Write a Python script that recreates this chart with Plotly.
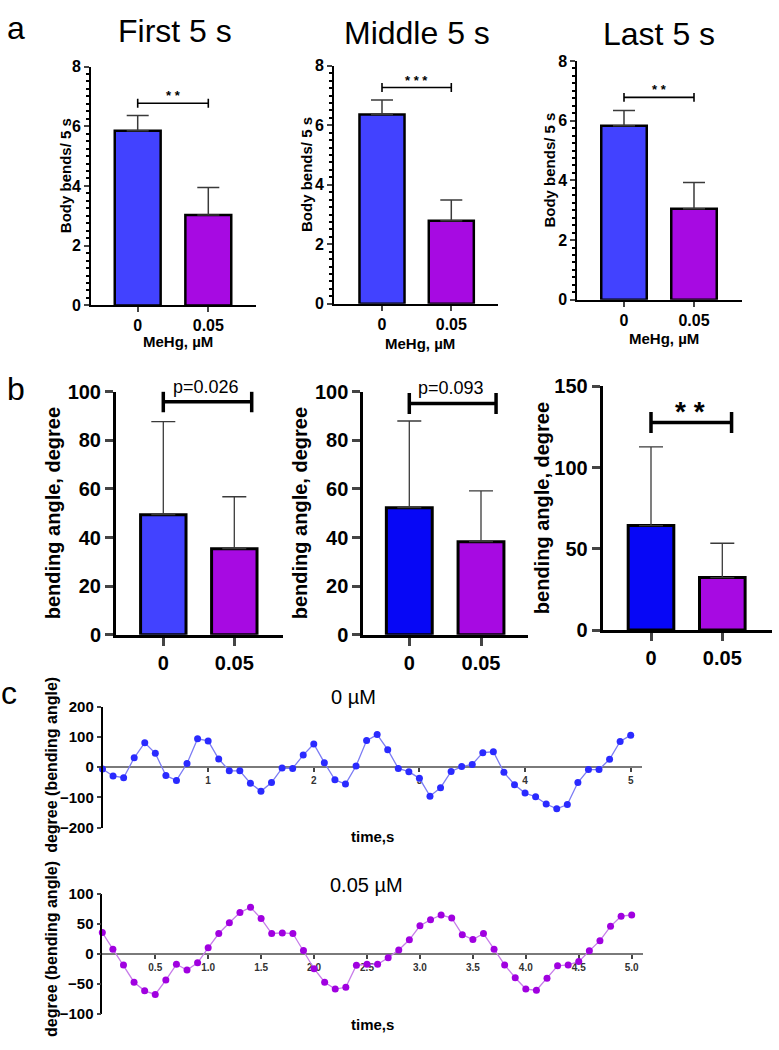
import plotly.graph_objects as go

W, H = 779, 1050
FONT = "Liberation Sans, Arial, sans-serif"

groups = ["0", "0.05"]

# a: body bends per 5 s
a_titles = ["First 5 s", "Middle 5 s", "Last 5 s"]
a_means = [[5.85, 3.03], [6.36, 2.79], [5.83, 3.05]]
a_err = [[0.51, 0.92], [0.49, 0.70], [0.51, 0.88]]
a_stars = ["* *", "* * *", "* *"]
a_bracket_y = [6.77, 7.27, 6.78]

# b: bending angle
b_means = [[49.4, 35.4], [52.3, 38.3], [64.3, 32.3]]
b_err = [[38.3, 21.4], [35.7, 20.9], [48.4, 21.1]]
b_labels = ["p=0.026", "p=0.093", "* *"]
b_bracket_y = [95.9, 95.2, 127.7]
b_bracket_end = [1.245, 1.21, 1.13]
b_ymax = [100, 100, 150]
b_dtick = [20, 20, 50]

# c: bending angle traces, one point per 0.1 s
time_s = [0.0, 0.1, 0.2, 0.3, 0.4, 0.5, 0.6, 0.7, 0.8, 0.9,
          1.0, 1.1, 1.2, 1.3, 1.4, 1.5, 1.6, 1.7, 1.8, 1.9,
          2.0, 2.1, 2.2, 2.3, 2.4, 2.5, 2.6, 2.7, 2.8, 2.9,
          3.0, 3.1, 3.2, 3.3, 3.4, 3.5, 3.6, 3.7, 3.8, 3.9,
          4.0, 4.1, 4.2, 4.3, 4.4, 4.5, 4.6, 4.7, 4.8, 4.9, 5.0]
angle_0 = [-6, -29, -35, 31, 81, 46, -28, -44, 12, 94,
           87, 27, -12, -12, -53, -80, -51, -3, -4, 40,
           77, 15, -42, -56, 4, 88, 108, 58, -4, -15,
           -37, -96, -68, -14, 2, 9, 48, 51, -17, -58,
           -86, -98, -122, -138, -124, -51, -8, -8, 26, 85, 106]
angle_005 = [35.5, 7.7, -18.6, -47.5, -62, -68, -44, -17.5, -27, -15,
             10, 34, 52, 69, 78, 59, 34, 35, 34, 5.5,
             -25, -47.5, -59, -56, -19, -17.5, -17.5, -6.5, 6.6, 23.5,
             47, 57, 65, 60, 32, 24, 34, 7.7, -18.6, -40,
             -59, -61, -41, -20, -18.6, -13, 5, 22, 46, 63, 65]

BLUE_A = "#4242ff"
BLUE_B = "#0707f6"
PURPLE = "#a70ae2"


def px_x(x):
    return x / W


def px_y(y):
    return 1 - y / H


def cat_axis(left, right, c0, c1):
    u = c1 - c0
    return [px_x(left), px_x(right)], [(left - c0) / u, (right - c0) / u]


fig = go.Figure()
layout = dict(width=W, height=H, margin=dict(l=0, r=0, t=0, b=0),
              paper_bgcolor="white", plot_bgcolor="white", showlegend=False,
              font=dict(family=FONT, color="black"), annotations=[])


def note(x, y, text, size, bold=False, angle=0, **kw):
    d = dict(x=px_x(x), y=px_y(y), xref="paper", yref="paper", text=text,
             showarrow=False, textangle=angle, xanchor="center", yanchor="middle",
             font=dict(family=FONT, size=size, color="black",
                       weight="bold" if bold else "normal"))
    d.update(kw)
    layout["annotations"].append(d)


# panel a boxes: axis left, axis right, cat0 px, cat1 px, top px (y=8), bottom px (y=0)
a_boxes = [(91, 256, 137.7, 208.3, 56.7, 300.7),
           (334, 498.3, 382, 451.3, 56, 299),
           (577.3, 741.7, 624, 694, 51, 295)]
a_title_pos = [(175, 20), (417, 22), (659, 23)]
a_ytitle_x = [65, 307, 550]
a_xtitle_y = [338, 340, 334]

for i in range(3):
    n = i + 1
    left, right, c0, c1, top, bot = a_boxes[i]
    xd, xr = cat_axis(left, right, c0, c1)
    xa, ya = f"x{n}", f"y{n}"
    fig.add_trace(go.Bar(x=[0, 1], y=a_means[i], width=0.65,
                         marker=dict(color=[BLUE_A, PURPLE], line=dict(color="black", width=2.5)),
                         error_y=dict(type="data", symmetric=False, array=a_err[i], arrayminus=[0, 0],
                                      color="#3a3a3a", thickness=1.5, width=11),
                         xaxis=xa, yaxis=ya))
    yb = a_bracket_y[i]
    h = 0.15
    fig.add_trace(go.Scatter(x=[0, 0, None, 0, 1, None, 1, 1],
                             y=[yb - h, yb + h, None, yb, yb, None, yb - h, yb + h],
                             mode="lines", line=dict(color="black", width=1.6),
                             cliponaxis=False, xaxis=xa, yaxis=ya))
    layout["annotations"].append(dict(x=0.5, y=yb, xref=xa, yref=ya, text=a_stars[i],
                                      showarrow=False, yanchor="bottom", yshift=-2,
                                      font=dict(family=FONT, size=13, weight="bold")))
    layout[f"xaxis{n}"] = dict(domain=xd, range=xr, anchor=ya, showline=True, linecolor="black",
                               linewidth=1.8, ticks="outside", ticklen=5, tickwidth=1.5,
                               tickvals=[0, 1], ticktext=groups, showgrid=False, zeroline=False,
                               tickfont=dict(family=FONT, size=16, weight="bold"))
    layout[f"yaxis{n}"] = dict(domain=[px_y(bot), px_y(top)], range=[0, 8], anchor=xa,
                               showline=True, linecolor="black", linewidth=1.8,
                               ticks="outside", ticklen=5, tickwidth=1.5, dtick=2,
                               minor=dict(ticks="outside", ticklen=3, dtick=0.25, tickcolor="black"),
                               showgrid=False, zeroline=False,
                               tickfont=dict(family=FONT, size=16, weight="bold"))
    note(a_title_pos[i][0], a_title_pos[i][1], a_titles[i], 32)
    note(a_ytitle_x[i], (top + bot) / 2 - 10, "Body bends/ 5 s", 15, bold=True, angle=-90)
    note((left + right) / 2 + 4, a_xtitle_y[i], "MeHg, µM", 15, bold=True)

# panel b boxes
b_boxes = [(116, 283, 163.3, 234.3, 389, 637),
           (363.3, 528, 409.3, 481, 389, 637),
           (602.7, 771.7, 651, 722.3, 383.3, 632.3)]
b_ytitle_x = [53, 300, 542]
b_colors = [[BLUE_A, PURPLE], [BLUE_B, PURPLE], [BLUE_B, PURPLE]]

for i in range(3):
    n = i + 4
    left, right, c0, c1, top, bot = b_boxes[i]
    xd, xr = cat_axis(left, right, c0, c1)
    xa, ya = f"x{n}", f"y{n}"
    fig.add_trace(go.Bar(x=[0, 1], y=b_means[i], width=0.64,
                         marker=dict(color=b_colors[i], line=dict(color="black", width=3)),
                         error_y=dict(type="data", symmetric=False, array=b_err[i], arrayminus=[0, 0],
                                      color="#3a3a3a", thickness=1.3, width=12),
                         xaxis=xa, yaxis=ya))
    yb = b_bracket_y[i]
    h = b_ymax[i] * 0.043
    e = b_bracket_end[i]
    fig.add_trace(go.Scatter(x=[0, 0, None, 0, e, None, e, e],
                             y=[yb - h, yb + h, None, yb, yb, None, yb - h, yb + h],
                             mode="lines", line=dict(color="black", width=3.5),
                             cliponaxis=False, xaxis=xa, yaxis=ya))
    star = b_labels[i].startswith("*")
    layout["annotations"].append(dict(x=e * 0.48, y=yb, xref=xa, yref=ya, text=b_labels[i],
                                      showarrow=False, yanchor="bottom",
                                      yshift=-6 if star else 3,
                                      font=dict(family=FONT, size=28 if star else 18,
                                                weight="bold" if star else "normal")))
    layout[f"xaxis{n}"] = dict(domain=xd, range=xr, anchor=ya, showline=True, linecolor="black",
                               linewidth=3, ticks="outside", ticklen=8, tickwidth=3,
                               tickvals=[0, 1], ticktext=groups, showgrid=False, zeroline=False,
                               tickfont=dict(family=FONT, size=20, weight="bold"))
    layout[f"yaxis{n}"] = dict(domain=[px_y(bot), px_y(top)], range=[0, b_ymax[i]], anchor=xa,
                               showline=True, linecolor="black", linewidth=3,
                               ticks="outside", ticklen=8, tickwidth=3, dtick=b_dtick[i],
                               showgrid=False, zeroline=False,
                               tickfont=dict(family=FONT, size=20, weight="bold"))
    note(b_ytitle_x[i], (top + bot) / 2, "bending angle, degree", 20, bold=True, angle=-90)

# panel c
c_series = [angle_0, angle_005]
c_titles = ["0 µM", "0.05 µM"]
c_line = ["#7c7cf4", "#c77ce9"]
c_mark = ["#2a2aff", "#a000e0"]
c_ymax = [200, 100]
c_dtick = [100, 50]
c_xtick = [[1, 2, 3, 4, 5], [0.5, 1.0, 1.5, 2.0, 2.5, 3.0, 3.5, 4.0, 4.5, 5.0]]
c_xfmt = ["d", ".1f"]
# axis left, axis right, t=0 px, t=5 px, top px, bottom px
c_boxes = [(102.5, 641.7, 102.5, 630.7, 710.7, 834),
           (102.3, 642.7, 102.3, 631.7, 902, 1024)]
c_title_pos = [(353, 701), (366, 893)]
c_ytitle_y = [770, 958]
c_time_y = [843, 1035]

for i in range(2):
    n = i + 7
    left, right, t0, t5, top, bot = c_boxes[i]
    u = (t5 - t0) / 5
    xa, ya = f"x{n}", f"y{n}"
    fig.add_trace(go.Scatter(x=time_s, y=c_series[i], mode="lines+markers",
                             line=dict(color=c_line[i], width=1.3),
                             marker=dict(color=c_mark[i], size=7),
                             cliponaxis=False, xaxis=xa, yaxis=ya))
    zero_y = (top + bot) / 2
    layout[f"xaxis{n}"] = dict(domain=[px_x(left), px_x(right)],
                               range=[(left - t0) / u, (right - t0) / u],
                               anchor="free", position=px_y(zero_y), layer="below traces",
                               showline=True, linecolor="#7a7a7a", linewidth=2,
                               ticks="outside", ticklen=4, tickwidth=1.5, tickcolor="#444",
                               tickvals=c_xtick[i], tickformat=c_xfmt[i],
                               showgrid=False, zeroline=False,
                               tickfont=dict(family=FONT, size=10, weight="bold", color="#333"))
    ym = c_ymax[i]
    layout[f"yaxis{n}"] = dict(domain=[px_y(bot), px_y(top)], range=[-ym, ym], anchor=xa,
                               showline=True, linecolor="black", linewidth=1.5,
                               ticks="outside", ticklen=4, tickwidth=1.5, dtick=c_dtick[i],
                               showgrid=False, zeroline=False,
                               tickfont=dict(family=FONT, size=15, weight="bold"))
    note(c_title_pos[i][0], c_title_pos[i][1], c_titles[i], 20)
    note(52, c_ytitle_y[i], "degree (bending angle)", 16, bold=True, angle=-90)
    note(372, c_time_y[i], "time,s", 15, bold=True)

# panel letters
note(16, 17, "a", 32)
note(16, 386, "b", 32)
note(9, 697, "c", 32)

fig.update_layout(**layout)
fig.write_html("out.html", config={"displayModeBar": False},
               post_script="document.body.style.margin='0';")
